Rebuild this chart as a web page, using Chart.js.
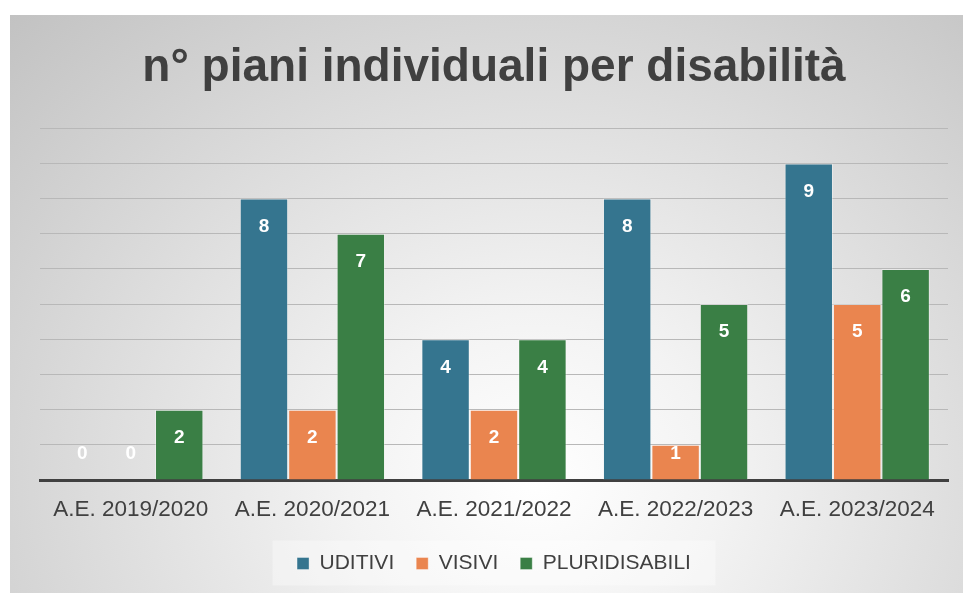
<!DOCTYPE html>
<html>
<head>
<meta charset="utf-8">
<script src="https://cdn.jsdelivr.net/npm/chart.js@4/dist/chart.umd.min.js"></script>
<style>
  html, body { margin: 0; padding: 0; background: #ffffff; }
  #panel {
    position: absolute; left: 10px; top: 15px; width: 953px; height: 578px;
    background: radial-gradient(ellipse farthest-corner at 55% 80%, #ffffff 0%, #f3f3f3 25%, #c2c2c2 100%);
  }
  canvas { display: block; }
</style>
</head>
<body>
<div id="panel"><canvas id="c" width="953" height="578"></canvas></div>
<script>
const categories = ["A.E. 2019/2020", "A.E. 2020/2021", "A.E. 2021/2022", "A.E. 2022/2023", "A.E. 2023/2024"];
const uditivi = [0, 8, 4, 8, 9];
const visivi = [0, 2, 2, 1, 5];
const pluridisabili = [2, 7, 4, 5, 6];
const seriesNames = ["UDITIVI", "VISIVI", "PLURIDISABILI"];
const yMax = 10;

const labelPlugin = {
  id: 'valueLabels',
  afterDatasetsDraw(chart) {
    const ctx = chart.ctx;
    const base = chart.scales.y.getPixelForValue(0);
    ctx.save();
    ctx.font = 'bold 19px "Liberation Sans", Arial, sans-serif';
    ctx.fillStyle = '#ffffff';
    ctx.textAlign = 'center';
    ctx.textBaseline = 'middle';
    chart.data.datasets.forEach((ds, di) => {
      chart.getDatasetMeta(di).data.forEach((bar, i) => {
        const y = Math.min(bar.y + 28, base - 26);
        ctx.fillText(String(ds.data[i]), bar.x, y);
      });
    });
    ctx.restore();
  }
};

const legendBg = {
  id: 'legendBg',
  beforeDraw(chart) {
    const l = chart.legend;
    if (!l) return;
    const ctx = chart.ctx;
    ctx.save();
    ctx.fillStyle = 'rgba(255,255,255,0.35)';
    const w = 443, h = 45;
    const cx = (l.left + l.right) / 2;
    const cy = l.top + l.height / 2 + 5.5;
    ctx.fillRect(cx - w / 2, cy - h / 2, w, h);
    ctx.restore();
  }
};

new Chart(document.getElementById('c'), {
  type: 'bar',
  data: {
    labels: categories,
    datasets: [
      { label: seriesNames[0], data: uditivi, backgroundColor: '#35758f', borderColor: 'rgba(255,255,255,0.35)', borderWidth: 1 },
      { label: seriesNames[1], data: visivi, backgroundColor: '#ea854f', borderColor: 'rgba(255,255,255,0.35)', borderWidth: 1 },
      { label: seriesNames[2], data: pluridisabili, backgroundColor: '#3a7f45', borderColor: 'rgba(255,255,255,0.35)', borderWidth: 1 }
    ]
  },
  options: {
    responsive: false,
    animation: false,
    layout: { padding: { left: 30, right: 15, top: 0, bottom: 9 } },
    datasets: { bar: { categoryPercentage: 0.8, barPercentage: 1.0 } },
    scales: {
      x: {
        grid: { display: false },
        border: { display: true, color: '#404040', width: 3 },
        ticks: { color: '#404040', font: { family: '"Liberation Sans", Arial, sans-serif', size: 22.5 }, padding: 8, maxRotation: 0 }
      },
      y: {
        min: 0, max: yMax,
        ticks: { display: false, stepSize: 1 },
        border: { display: false },
        grid: { color: '#b8b8b8', lineWidth: 1, drawTicks: false },
        afterFit(s) { s.width = 0; }
      }
    },
    plugins: {
      title: {
        display: true,
        text: 'n° piani individuali per disabilità',
        color: '#404040',
        font: { family: '"Liberation Sans Narrow", "Liberation Sans", Arial, sans-serif', size: 46, weight: 'bold' },
        padding: { top: 26, bottom: 32 }
      },
      legend: {
        position: 'bottom',
        labels: {
          color: '#404040',
          font: { family: '"Liberation Sans", Arial, sans-serif', size: 21 },
          boxWidth: 12, boxHeight: 12, padding: 22
        }
      },
      tooltip: { enabled: false }
    }
  },
  plugins: [legendBg, labelPlugin]
});
</script>
</body>
</html>
